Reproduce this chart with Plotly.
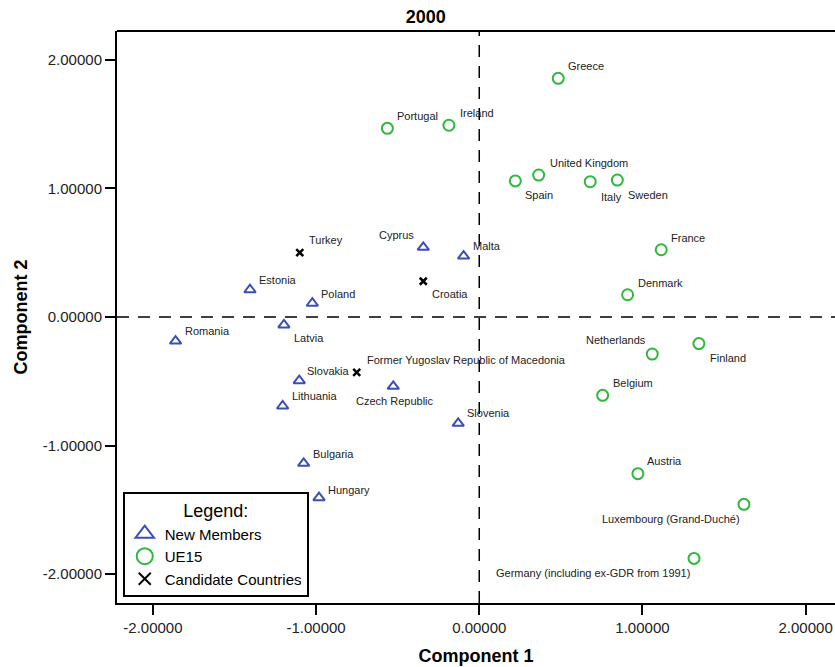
import plotly.graph_objects as go

# ---- data: component scores for year 2000 ----
ue15_names = ["Greece", "Ireland", "Portugal", "United Kingdom", "Spain", "Italy",
              "Sweden", "France", "Denmark", "Netherlands", "Finland", "Belgium",
              "Austria", "Luxembourg (Grand-Duché)", "Germany (including ex-GDR from 1991)"]
ue15_c1 = [0.484, -0.186, -0.563, 0.364, 0.221, 0.680, 0.846, 1.115, 0.909,
           1.060, 1.346, 0.756, 0.972, 1.622, 1.316]
ue15_c2 = [1.856, 1.491, 1.467, 1.104, 1.058, 1.052, 1.065, 0.523, 0.173,
           -0.288, -0.207, -0.609, -1.218, -1.457, -1.877]

new_names = ["Cyprus", "Malta", "Estonia", "Poland", "Latvia", "Romania", "Slovakia",
             "Czech Republic", "Lithuania", "Slovenia", "Bulgaria", "Hungary"]
new_c1 = [-0.343, -0.096, -1.405, -1.023, -1.197, -1.861, -1.103, -0.527, -1.205,
          -0.129, -1.076, -0.982]
new_c2 = [0.542, 0.474, 0.212, 0.107, -0.062, -0.187, -0.495, -0.539, -0.692,
          -0.827, -1.138, -1.405]

cand_names = ["Turkey", "Croatia", "Former Yugoslav Republic of Macedonia"]
cand_c1 = [-1.100, -0.343, -0.751]
cand_c2 = [0.500, 0.278, -0.430]

tick_vals = [-2, -1, 0, 1, 2]
tick_text = ["-2.00000", "-1.00000", "0.00000", "1.00000", "2.00000"]

# ---- label placement: (anchor, dx px, dy px; dy positive = down) ----
label_place = {
    "Greece": ("left", 8, -12), "Ireland": ("left", 9, -12), "Portugal": ("left", 8, -12),
    "United Kingdom": ("left", 9, -12), "Spain": ("left", 8, 14), "Italy": ("left", 9, 15),
    "Sweden": ("left", 9, 15), "France": ("left", 8, -12), "Denmark": ("left", 8, -12),
    "Netherlands": ("right", -4, -14), "Finland": ("left", 9, 14), "Belgium": ("left", 8, -12),
    "Austria": ("left", 7, -13), "Luxembourg (Grand-Duché)": ("right", -2, 15),
    "Germany (including ex-GDR from 1991)": ("right", -2, 15),
    "Cyprus": ("right", -7, -12), "Malta": ("left", 7, -10), "Estonia": ("left", 7, -10),
    "Poland": ("left", 7, -9), "Latvia": ("left", 8, 13), "Romania": ("left", 7, -10),
    "Slovakia": ("left", 6, -10), "Czech Republic": ("center", 2, 15),
    "Lithuania": ("left", 7, -10), "Slovenia": ("left", 7, -10), "Bulgaria": ("left", 7, -9),
    "Hungary": ("left", 7, -8),
    "Turkey": ("left", 7, -13), "Croatia": ("left", 7, 13),
    "Former Yugoslav Republic of Macedonia": ("left", 8, -12),
}

BLUE = "#3a4fb6"
GREEN = "#2eb83c"
FONT = "Arial, Liberation Sans, sans-serif"

fig = go.Figure()

# plotted groups
fig.add_trace(go.Scatter(x=new_c1, y=new_c2, mode="markers", showlegend=False,
                         marker=dict(symbol="triangle-up-open", size=10, color=BLUE,
                                     line=dict(width=2, color=BLUE))))
fig.add_trace(go.Scatter(x=ue15_c1, y=ue15_c2, mode="markers", showlegend=False,
                         marker=dict(symbol="circle-open", size=11, color=GREEN,
                                     line=dict(width=2, color=GREEN))))
fig.add_trace(go.Scatter(x=cand_c1, y=cand_c2, mode="markers", showlegend=False,
                         marker=dict(symbol="x-thin-open", size=7, color="black",
                                     line=dict(width=2.5, color="black"))))

# legend entries with larger symbols
fig.add_trace(go.Scatter(x=[None], y=[None], mode="markers", name="New Members",
                         marker=dict(symbol="triangle-up-open", size=16, color=BLUE,
                                     line=dict(width=2, color=BLUE))))
fig.add_trace(go.Scatter(x=[None], y=[None], mode="markers", name="UE15",
                         marker=dict(symbol="circle-open", size=16, color=GREEN,
                                     line=dict(width=2, color=GREEN))))
fig.add_trace(go.Scatter(x=[None], y=[None], mode="markers", name="Candidate Countries",
                         marker=dict(symbol="x-thin-open", size=12, color="black",
                                     line=dict(width=2, color="black"))))

# point labels
for names, xs, ys in [(ue15_names, ue15_c1, ue15_c2),
                      (new_names, new_c1, new_c2),
                      (cand_names, cand_c1, cand_c2)]:
    for n, xv, yv in zip(names, xs, ys):
        anchor, dx, dy = label_place[n]
        fig.add_annotation(x=xv, y=yv, text=n, showarrow=False,
                           xanchor=anchor, yanchor="middle",
                           xshift=dx, yshift=-dy,
                           font=dict(family=FONT, size=11, color="#222222"))

# dashed reference lines at zero, and top border
fig.add_shape(type="line", xref="x", yref="paper", x0=0, x1=0, y0=0, y1=1,
              line=dict(color="black", width=1.5, dash="12px,9px"))
fig.add_shape(type="line", xref="paper", yref="y", x0=0, x1=1, y0=0, y1=0,
              line=dict(color="black", width=1.5, dash="12px,9px"))
fig.add_shape(type="line", xref="paper", yref="paper", x0=0, x1=1, y0=1, y1=1,
              line=dict(color="black", width=2))

axis_common = dict(showgrid=False, zeroline=False, showline=True, linecolor="black",
                   linewidth=2, ticks="outside", ticklen=10, tickwidth=2,
                   tickcolor="black", tickvals=tick_vals, ticktext=tick_text,
                   tickfont=dict(family=FONT, size=15, color="#222222"))

fig.update_layout(
    width=835, height=667,
    margin=dict(l=117, r=0, t=31, b=64),
    paper_bgcolor="white", plot_bgcolor="white",
    title=dict(text="<b>2000</b>", x=0.51, xanchor="center", y=0.975, yanchor="middle",
               font=dict(family=FONT, size=18, color="black")),
    xaxis=dict(range=[-2.22, 2.18],
               title=dict(text="<b>Component 1</b>", standoff=14,
                          font=dict(family=FONT, size=18, color="black")),
               **axis_common),
    yaxis=dict(range=[-2.224, 2.224],
               title=dict(text="<b>Component 2</b>", standoff=10,
                          font=dict(family=FONT, size=18, color="black")),
               **axis_common),
    legend=dict(x=0.008, y=0.194, xanchor="left", yanchor="top",
                bgcolor="white", bordercolor="black", borderwidth=2,
                font=dict(family=FONT, size=15, color="black"),
                title=dict(text="Legend:", side="top center",
                           font=dict(family=FONT, size=18, color="black")),
                itemsizing="trace"),
)

fig.write_html("out.html")
